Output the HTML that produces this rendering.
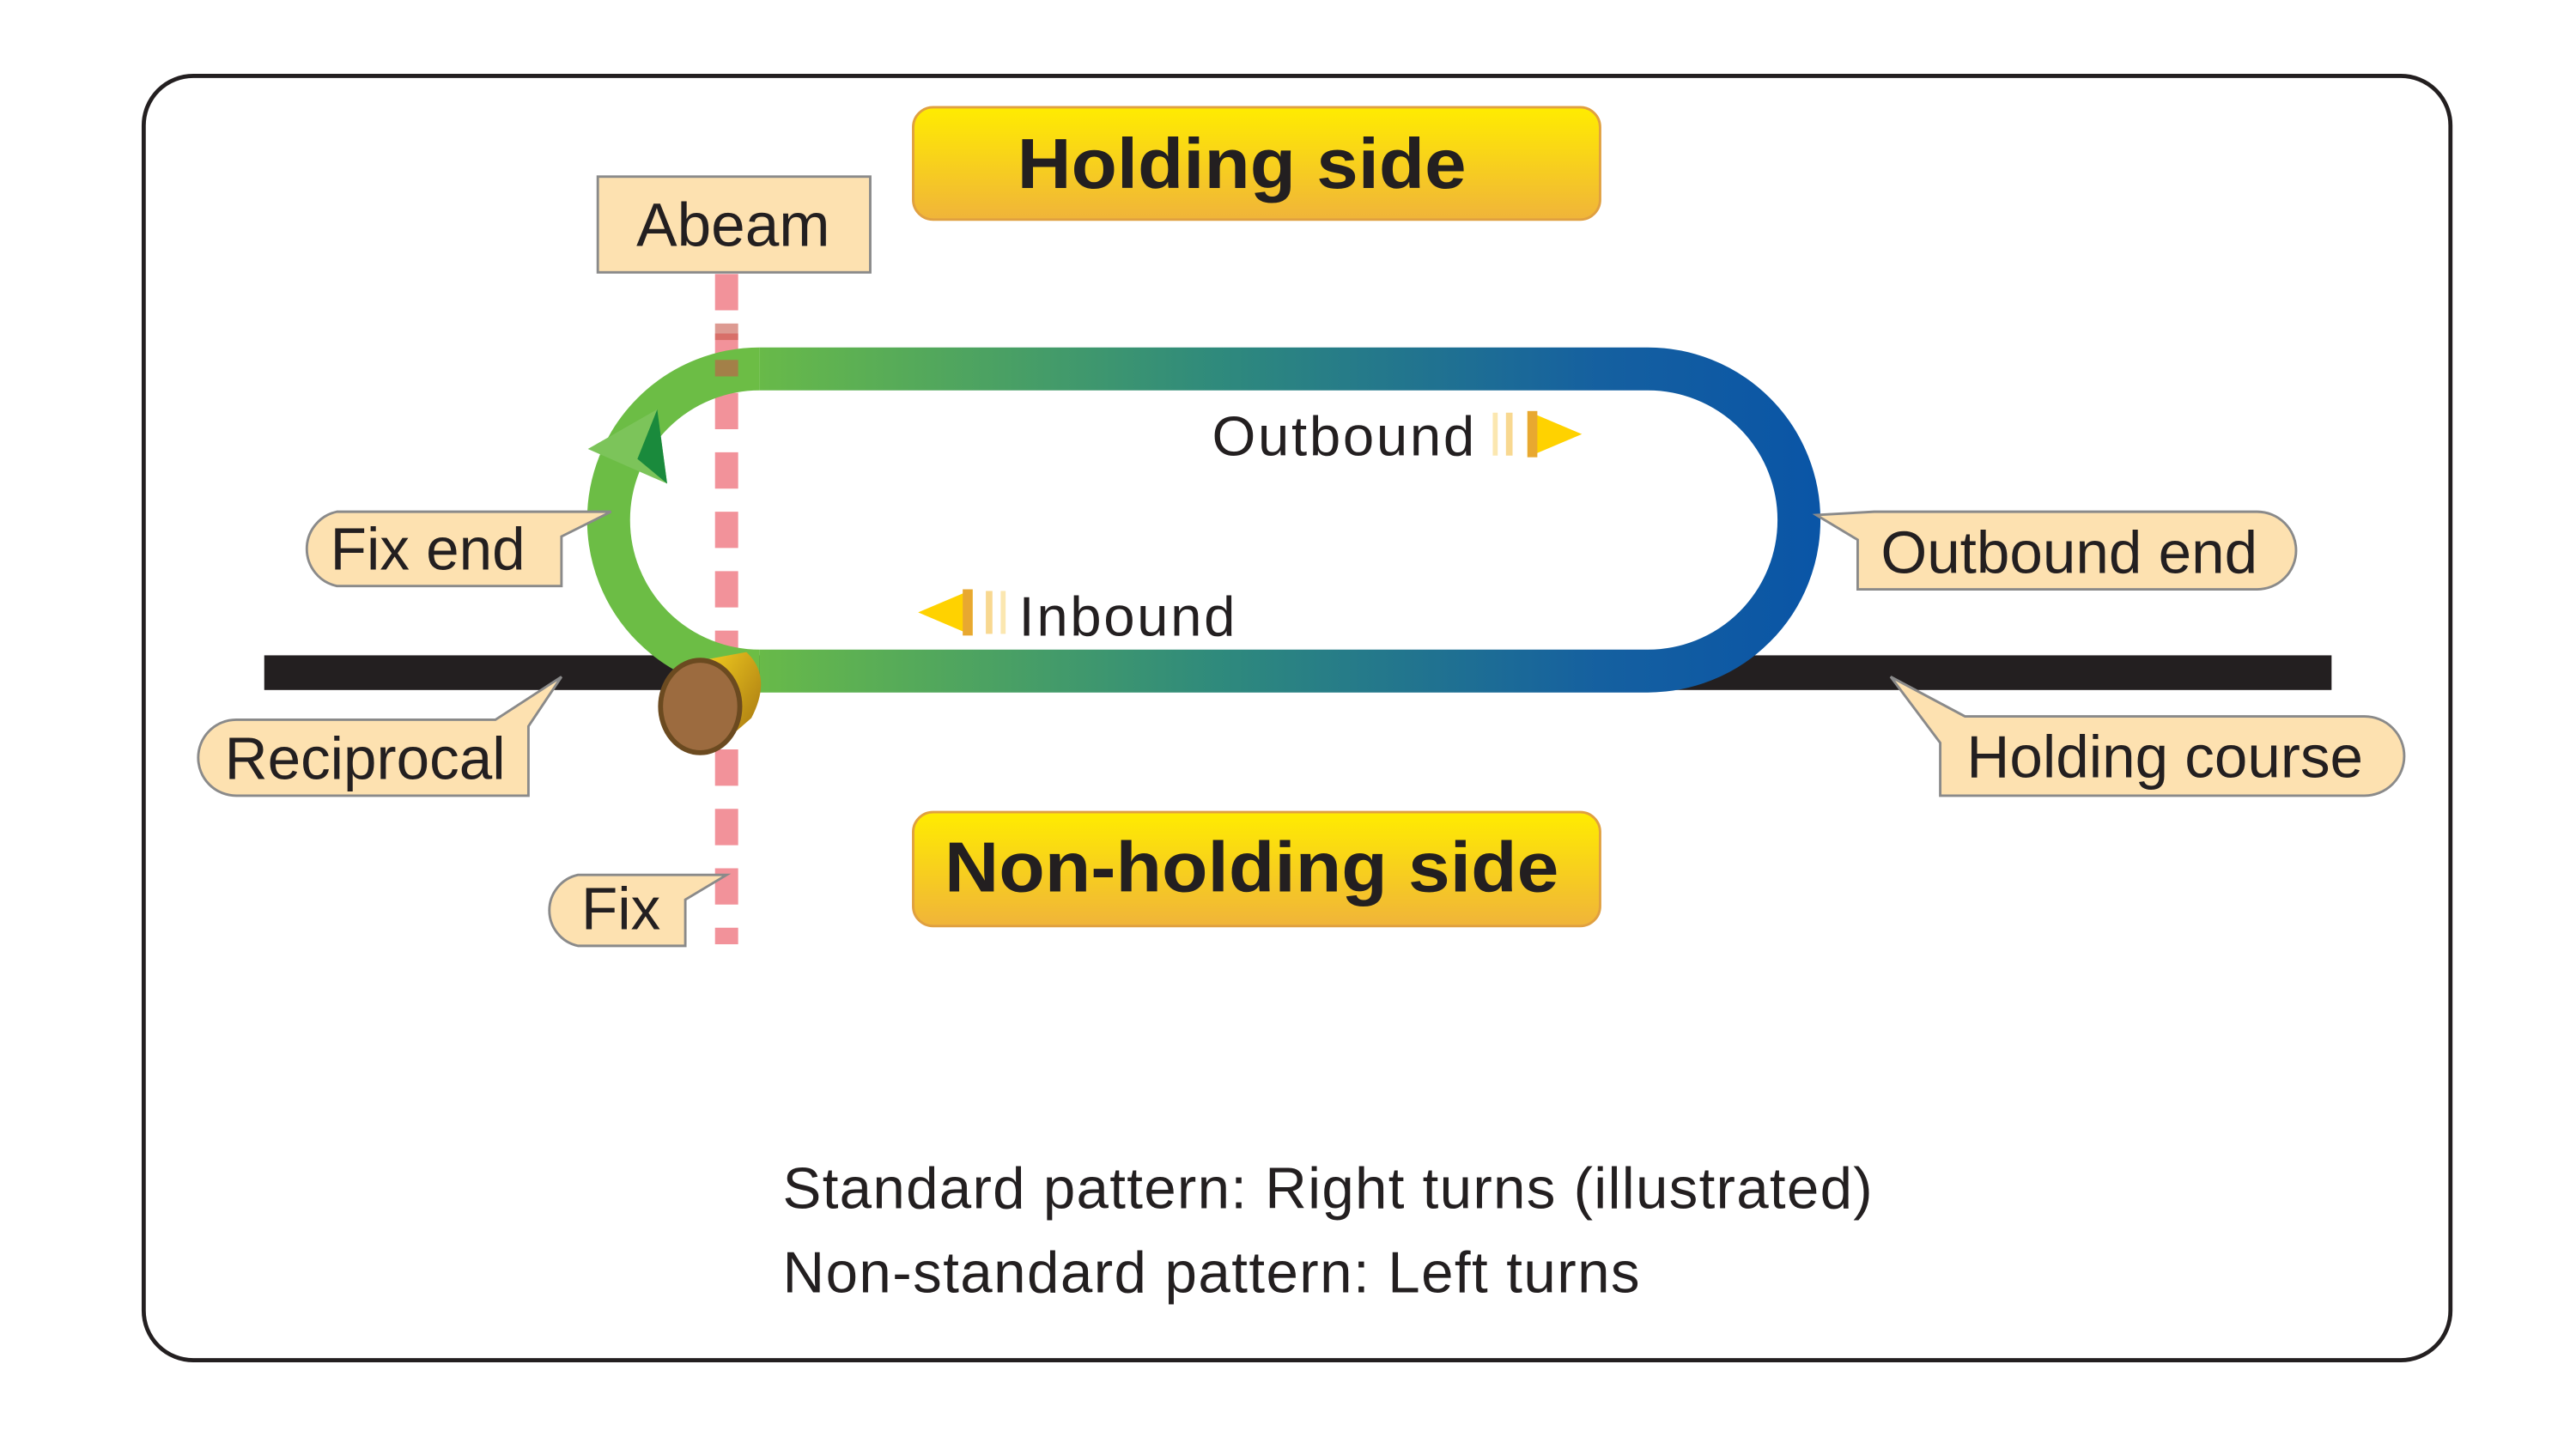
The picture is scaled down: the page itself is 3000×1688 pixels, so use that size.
<!DOCTYPE html>
<html><head><meta charset="utf-8"><style>html,body{margin:0;padding:0;background:#fff}svg{display:block}</style></head>
<body>
<svg width="3000" height="1688" viewBox="0 0 1560 877.8" xmlns="http://www.w3.org/2000/svg" font-family="Liberation Sans, sans-serif">
<defs>
<linearGradient id="yb" x1="0" y1="0" x2="0" y2="1"><stop offset="0" stop-color="#ffec00"/><stop offset="1" stop-color="#f0b43a"/></linearGradient>
<linearGradient id="tr" x1="440" y1="0" x2="1100" y2="0" gradientUnits="userSpaceOnUse"><stop offset="0" stop-color="#6cbd45"/><stop offset="0.45" stop-color="#2f8a7c"/><stop offset="0.8" stop-color="#1560a0"/><stop offset="1" stop-color="#0a55a6"/></linearGradient>
<linearGradient id="cyl" x1="0" y1="0" x2="1" y2="1"><stop offset="0" stop-color="#f5d020"/><stop offset="1" stop-color="#a07010"/></linearGradient>
</defs>
<rect x="87" y="46" width="1397" height="778" rx="30" fill="#fff" stroke="#231f20" stroke-width="2.5"/>
<rect x="160" y="397" width="1252" height="21" fill="#231f20"/>
<line x1="440" y1="166" x2="440" y2="572" stroke="#f2929a" stroke-width="14" stroke-dasharray="22 14"/>
<path d="M 460 223.5 H 998 A 91.5 91.5 0 0 1 998 406.5 H 460" fill="none" stroke="url(#tr)" stroke-width="26"/>
<path d="M 460 223.5 A 91.5 91.5 0 0 0 460 406.5" fill="none" stroke="#6cbd45" stroke-width="26"/>
<line x1="440" y1="196" x2="440" y2="236" stroke="#c8584a" stroke-width="14" stroke-dasharray="10 12" opacity="0.6"/>
<polygon points="356,272 398,248 404,293" fill="#7cc45a"/>
<polygon points="398,248 404,293 386,278" fill="#1a8a3c"/>
<path d="M 425 400 L 452 395 Q 468 410 455 435 L 432 455 Z" fill="url(#cyl)"/>
<ellipse cx="424" cy="428" rx="24" ry="28" fill="#9c6b3f" stroke="#6b4a20" stroke-width="3"/>
<rect x="553" y="65" width="416" height="68" rx="12" fill="url(#yb)" stroke="#e0a040" stroke-width="1.5"/>
<text x="752" y="114" text-anchor="middle" font-size="43" font-weight="bold" fill="#231f20" textLength="272" lengthAdjust="spacingAndGlyphs">Holding side</text>
<rect x="553" y="492" width="416" height="69" rx="12" fill="url(#yb)" stroke="#e0a040" stroke-width="1.5"/>
<text x="758" y="540" text-anchor="middle" font-size="43" font-weight="bold" fill="#231f20" textLength="372" lengthAdjust="spacingAndGlyphs">Non-holding side</text>
<rect x="362" y="107" width="165" height="58" fill="#fde1b0" stroke="#8a8a8a" stroke-width="1.5"/>
<text x="444" y="149" text-anchor="middle" font-size="37" fill="#231f20">Abeam</text>
<g fill="#fde1b0" stroke="#8a8a8a" stroke-width="1.5">
<path d="M 204 310 H 370 L 340 325 V 355 H 204 A 23 23 0 0 1 204 310 Z"/>
<path d="M 143 436 H 300 L 340 410 L 320 440 V 482 H 143 A 23 23 0 0 1 143 436 Z"/>
<path d="M 350 530 H 440 L 415 545 V 573 H 350 A 22 22 0 0 1 350 530 Z"/>
<path d="M 1100 312 L 1125 327 V 357 H 1367 A 23 23 0 0 0 1367 310 H 1135 Z"/>
<path d="M 1145 410 L 1190 434 H 1432 A 24 24 0 0 1 1432 482 H 1175 V 450 Z"/>
</g>
<g font-size="36" fill="#231f20">
<text x="200" y="345">Fix end</text>
<text x="136" y="472">Reciprocal</text>
<text x="352" y="563">Fix</text>
<text x="1139" y="347">Outbound end</text>
<text x="1191" y="471">Holding course</text>
<text x="734" y="276" font-size="34" textLength="159">Outbound</text>
<text x="617" y="385" font-size="34" textLength="131">Inbound</text>
</g>
<g>
<rect x="904" y="250" width="3" height="26" fill="#fbe7b0"/><rect x="912" y="250" width="4" height="26" fill="#f8d890"/>
<polygon points="925,249 958,263 925,277" fill="#ffd200"/><rect x="925" y="249" width="6" height="28" fill="#e8a830"/>
<rect x="606" y="358" width="3" height="26" fill="#fbe7b0"/><rect x="597" y="358" width="4" height="26" fill="#f8d890"/>
<polygon points="589,357 556,371 589,385" fill="#ffd200"/><rect x="583" y="357" width="6" height="28" fill="#e8a830"/>
</g>
<text x="474" y="732" font-size="35" fill="#231f20" textLength="660">Standard pattern: Right turns (illustrated)</text>
<text x="474" y="783" font-size="35" fill="#231f20" textLength="519">Non-standard pattern: Left turns</text>
</svg>
</body></html>
